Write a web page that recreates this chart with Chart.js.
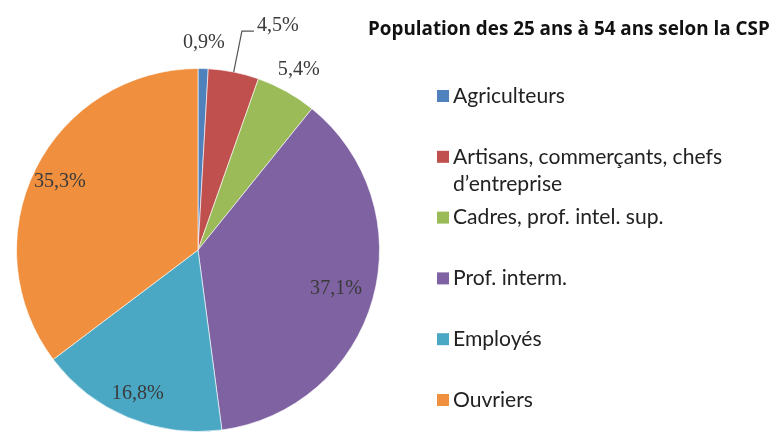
<!DOCTYPE html>
<html><head><meta charset="utf-8">
<script src="https://cdn.jsdelivr.net/npm/chart.js@4/dist/chart.umd.min.js"></script>
<style>html,body{margin:0;padding:0;background:#fff;overflow:hidden}#wrap{position:relative;width:775px;height:432px}</style>
</head><body><div id="wrap"><canvas id="c" width="775" height="432"></canvas></div>
<script>
const chartTitle = 'Population des 25 ans à 54 ans selon la CSP';
const categories = [
  ['Agriculteurs'],
  ['Artisans, commerçants, chefs', 'd\u2019entreprise'],
  ['Cadres, prof. intel. sup.'],
  ['Prof. interm.'],
  ['Employés'],
  ['Ouvriers']
];
const values = [0.9, 4.5, 5.4, 37.1, 16.8, 35.3];
const valueLabels = ['0,9%', '4,5%', '5,4%', '37,1%', '16,8%', '35,3%'];

// styling
const colors = ['#4F81BD', '#C0504D', '#9BBB59', '#7E62A1', '#4AA8C4', '#F0903F'];
const labelRadius = [1.14, 1.23, 1.14, 0.79, 0.86, 0.85];
const labelLeader = [false, true, false, false, false, false];

function fitSize(ctx, text, weight, family, target) {
  ctx.font = weight + ' 20px ' + family;
  const w = ctx.measureText(text).width;
  return 20 * target / w;
}

const drawPlugin = {
  id: 'drawExtras',
  afterDraw(chart) {
    const ctx = chart.ctx;
    ctx.save();
    // title
    const tSize = fitSize(ctx, chartTitle, 'bold', '"Open Sans", sans-serif', 402);
    ctx.font = 'bold ' + tSize.toFixed(2) + 'px "Open Sans", sans-serif';
    ctx.fillStyle = '#111';
    ctx.textAlign = 'left';
    ctx.textBaseline = 'middle';
    ctx.fillText(chartTitle, 368, 30);

    // legend
    const lSize = fitSize(ctx, 'Agriculteurs', 'normal', 'Lato, sans-serif', 112);
    ctx.font = lSize.toFixed(2) + 'px Lato, sans-serif';
    const y0 = 96, step = 60.8, lineH = 27;
    categories.forEach((lines, i) => {
      const y = y0 + i * step;
      ctx.fillStyle = colors[i];
      ctx.fillRect(437, y - 6, 12, 12);
      ctx.fillStyle = '#222';
      lines.forEach((ln, j) => ctx.fillText(ln, 453, y + j * lineH));
    });

    // data labels
    const meta = chart.getDatasetMeta(0);
    const dSize = fitSize(ctx, '37,1%', 'normal', '"Liberation Serif", serif', 52);
    ctx.font = dSize.toFixed(2) + 'px "Liberation Serif", serif';
    meta.data.forEach((arc, i) => {
      const p = arc.getProps(['x', 'y', 'startAngle', 'endAngle', 'outerRadius'], true);
      const mid = (p.startAngle + p.endAngle) / 2;
      const r = p.outerRadius * labelRadius[i];
      const lx = p.x + Math.cos(mid) * r;
      const ly = p.y + Math.sin(mid) * r;
      ctx.fillStyle = '#3a3a3a';
      if (labelLeader[i]) {
        const sx = p.x + Math.cos(mid) * p.outerRadius;
        const sy = p.y + Math.sin(mid) * p.outerRadius;
        ctx.strokeStyle = '#555';
        ctx.lineWidth = 1.2;
        ctx.beginPath();
        ctx.moveTo(sx, sy);
        ctx.lineTo(lx, ly);
        ctx.lineTo(lx + 12, ly);
        ctx.stroke();
        ctx.textAlign = 'left';
        ctx.fillText(valueLabels[i], lx + 15, ly - 5);
      } else {
        ctx.textAlign = 'center';
        ctx.fillText(valueLabels[i], lx, ly);
      }
    });
    ctx.restore();
  }
};

new Chart(document.getElementById('c'), {
  type: 'pie',
  data: {
    labels: categories,
    datasets: [{
      data: values,
      backgroundColor: colors,
      borderColor: 'rgba(255,255,255,0.6)',
      borderWidth: 1
    }]
  },
  options: {
    responsive: false,
    animation: false,
    devicePixelRatio: 1,
    layout: { padding: { left: 16, right: 395, top: 68, bottom: 0 } },
    plugins: { legend: { display: false }, tooltip: { enabled: false }, title: { display: false } }
  },
  plugins: [drawPlugin]
});
</script>
</body></html>
